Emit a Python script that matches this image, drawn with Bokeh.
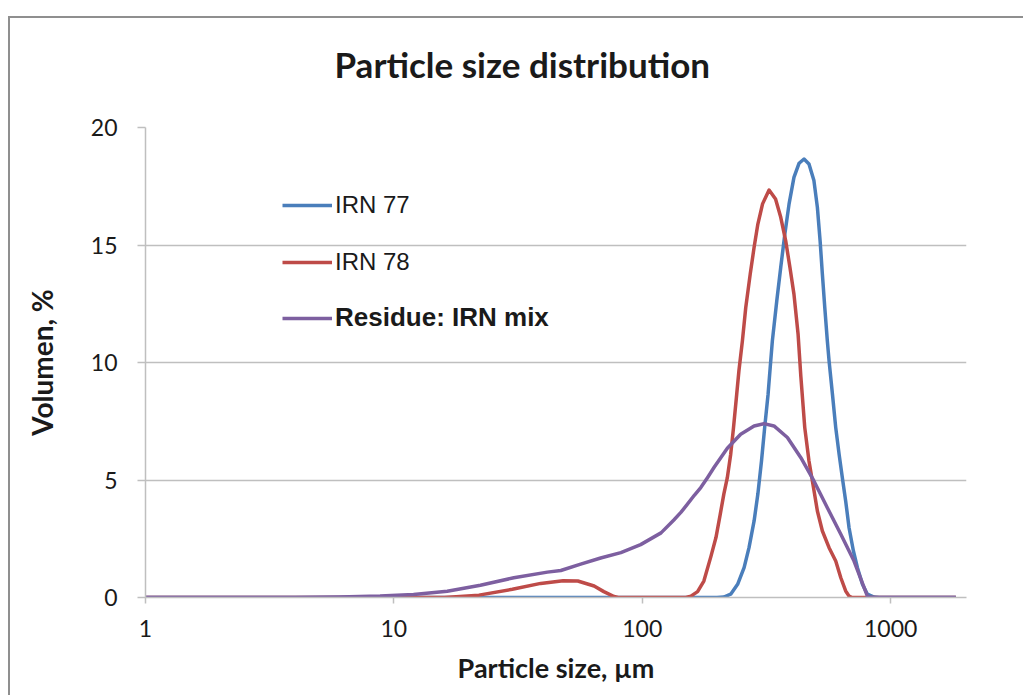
from bokeh.plotting import figure
from bokeh.models import (Range1d, FixedTicker, Legend, LegendItem, Title)
from bokeh.embed import file_html
from bokeh.resources import INLINE

# ---- data ----
x_irn77 = [1, 200, 213, 227, 242, 257, 269, 282, 292, 302, 311, 321, 329, 334, 348, 361, 375, 390, 408,
           428, 448, 469, 491, 507, 520, 531, 543, 556, 565, 583, 601, 620, 639, 659, 680, 708, 735, 770,
           806, 857, 900, 1830]
y_irn77 = [0, 0, 0.02, 0.14, 0.56, 1.27, 2.12, 3.26, 4.40, 5.81, 7.23, 8.65, 10.07, 10.92, 12.63, 14.05,
           15.47, 16.75, 17.88, 18.48, 18.66, 18.45, 17.74, 16.6, 15.18, 13.76, 12.34, 10.92, 10.07, 8.65,
           7.23, 6.10, 5.10, 4.11, 2.97, 1.98, 1.27, 0.56, 0.14, 0.02, 0, 0]

x_irn78 = [1, 16, 22, 30, 39, 48, 55, 64, 70, 77, 80, 150, 157, 167, 177, 189, 198, 206, 213, 220, 227,
           233, 240, 245, 253, 261, 272, 282, 292, 305, 324, 344, 361, 378, 393, 408, 424, 435, 451, 469,
           489, 507, 531, 565, 601, 630, 659, 680, 700, 1830]
y_irn78 = [0, 0, 0.1, 0.35, 0.6, 0.71, 0.70, 0.49, 0.25, 0.04, 0, 0, 0.06, 0.25, 0.70, 1.75, 2.55, 3.54,
           4.40, 5.10, 6.10, 7.23, 8.65, 9.65, 10.92, 12.34, 13.76, 14.90, 15.89, 16.75, 17.34, 16.96,
           16.18, 15.18, 14.05, 12.91, 11.2, 9.4, 7.23, 5.81, 4.68, 3.68, 2.83, 2.12, 1.55, 0.84, 0.28,
           0.06, 0, 0]

x_mix = [1, 4, 6, 8.8, 12, 16.4, 22.3, 30.4, 41.5, 47, 56.5, 68, 82, 98.5, 119, 134, 143, 152, 162, 172,
         183, 195, 207, 220, 249, 282, 309, 339, 384, 435, 491, 556, 630, 712, 782, 806, 830, 1830]
y_mix = [0, 0, 0.02, 0.06, 0.13, 0.27, 0.52, 0.84, 1.08, 1.15, 1.42, 1.68, 1.91, 2.25, 2.75, 3.3, 3.62,
         3.97, 4.35, 4.68, 5.1, 5.55, 5.95, 6.35, 6.95, 7.30, 7.40, 7.30, 6.81, 5.95, 4.96, 3.82, 2.69,
         1.55, 0.42, 0.06, 0, 0]

series_names = ["IRN 77", "IRN 78", "Residue: IRN mix"]
x_ticks = [1, 10, 100, 1000]
x_tick_labels = ["1", "10", "100", "1000"]
y_ticks = [0, 5, 10, 15, 20]

title_text = "Particle size distribution"
x_label = "Particle size, µm"
y_label = "Volumen, %"

# ---- styling ----
BLUE = "#4A7EBB"
RED = "#BE4B48"
PURPLE = "#7D5FA0"
GRID = "#BFBFBF"
TXT = "#1A1A1A"
LABEL_FONT = "Lato"

p = figure(width=1015, height=679, x_axis_type="log",
           x_range=Range1d(1, 2020), y_range=Range1d(0, 20),
           output_backend="svg", toolbar_location=None,
           min_border_left=135, min_border_right=59,
           min_border_top=109, min_border_bottom=100,
           background_fill_color="white", border_fill_color="white")
p.margin = (16, 0, 0, 8)
p.styles = {"border-left": "2px solid #8F8F8F", "border-top": "2px solid #8F8F8F"}
p.outline_line_color = None

# trailing empty line lifts the title away from the frame, as in the reference
t = Title(text=title_text + "\n", align="left", offset=189,
          text_font=LABEL_FONT, text_font_size="35px", text_font_style="bold",
          text_color=TXT, standoff=2)
p.add_layout(t, "above")

# grid
p.xgrid.grid_line_color = None
p.ygrid.grid_line_color = GRID
p.ygrid.grid_line_width = 1.5
p.ygrid.ticker = FixedTicker(ticks=y_ticks)

# axes
p.xaxis.ticker = FixedTicker(ticks=x_ticks)
p.xaxis.major_label_overrides = {v: s for v, s in zip(x_ticks, x_tick_labels)}
p.yaxis.ticker = FixedTicker(ticks=y_ticks)
for ax in (p.xaxis[0], p.yaxis[0]):
    ax.axis_line_color = GRID
    ax.axis_line_width = 1.5
    ax.major_tick_line_color = GRID
    ax.major_tick_line_width = 1.5
    ax.minor_tick_line_color = None
    ax.major_tick_in = 0
    ax.major_label_text_font = LABEL_FONT
    ax.major_label_text_font_size = "23px"
    ax.major_label_text_color = TXT
    ax.axis_label_text_font = LABEL_FONT
    ax.axis_label_text_font_style = "bold"
    ax.axis_label_text_color = TXT
p.xaxis.axis_label_text_font_size = "27px"
p.yaxis.axis_label_text_font_size = "28px"
p.xaxis.major_tick_out = 6
p.yaxis.major_tick_out = 8
p.xaxis.major_label_standoff = 16
p.yaxis.major_label_standoff = 20
p.xaxis.axis_label = x_label
p.yaxis.axis_label = y_label
p.xaxis.axis_label_standoff = 11
p.yaxis.axis_label_standoff = 29

r1 = p.line(x_irn77, y_irn77, line_color=BLUE, line_width=3.5, line_join="round")
r2 = p.line(x_irn78, y_irn78, line_color=RED, line_width=3.5, line_join="round")
r3 = p.line(x_mix, y_mix, line_color=PURPLE, line_width=3.5, line_join="round")

def make_legend(items, loc, style, size):
    return Legend(items=items, location=loc, orientation="vertical",
                  label_text_font="Liberation Sans", label_text_font_size=size,
                  label_text_font_style=style, label_text_color=TXT,
                  glyph_width=50, glyph_height=28, label_height=28,
                  spacing=29, padding=0, margin=0, label_standoff=3,
                  border_line_color=None, background_fill_alpha=0)

leg1 = make_legend([LegendItem(label=series_names[0], renderers=[r1]),
                    LegendItem(label=series_names[1], renderers=[r2])], (137, 321), "normal", "24px")
leg2 = make_legend([LegendItem(label=series_names[2], renderers=[r3])], (137, 264), "bold", "26px")
p.add_layout(leg1, "center")
p.add_layout(leg2, "center")

open("out.html", "w").write(file_html(p, INLINE))
